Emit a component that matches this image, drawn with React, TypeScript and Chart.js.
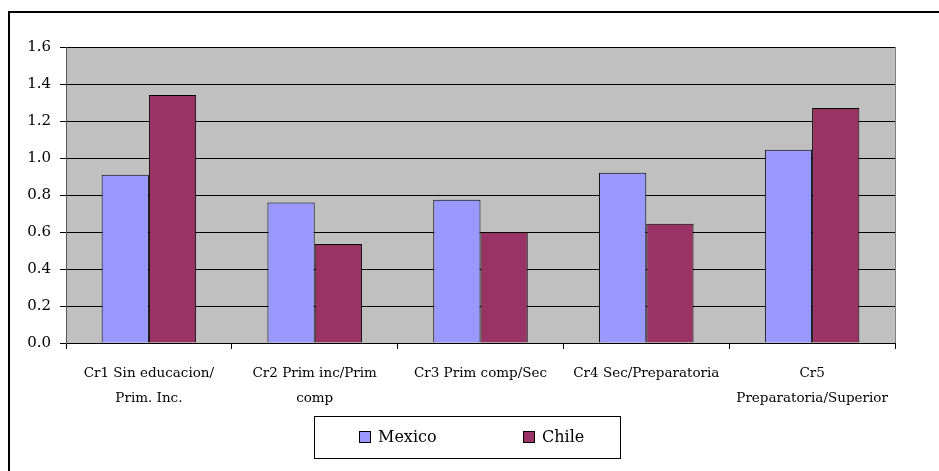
import React, { useEffect, useRef } from "react";
import { Chart, registerables } from "chart.js";

Chart.register(...registerables);

const categories: (string | string[])[] = [
  ["Cr1 Sin educacion/", "Prim. Inc."],
  ["Cr2 Prim inc/Prim", "comp"],
  "Cr3 Prim comp/Sec",
  "Cr4 Sec/Preparatoria",
  ["Cr5", "Preparatoria/Superior"],
];
const mexicoValues = [0.91, 0.76, 0.775, 0.92, 1.045];
const chileValues = [1.34, 0.535, 0.6, 0.645, 1.27];
const seriesNames = ["Mexico", "Chile"];
const yTicks = [0, 0.2, 0.4, 0.6, 0.8, 1.0, 1.2, 1.4, 1.6];

const FONT = "DejaVu Serif, serif";

const framePlugin = {
  id: "frame",
  beforeDraw(chart: any) {
    const { ctx, chartArea, width, height } = chart;
    ctx.save();
    ctx.fillStyle = "#ffffff";
    ctx.fillRect(0, 0, width, height);
    ctx.fillStyle = "#000000";
    ctx.fillRect(8, 11, 2, height - 11);
    ctx.fillRect(8, 11, width - 8, 2);
    ctx.fillStyle = "#C0C0C0";
    ctx.fillRect(chartArea.left, chartArea.top, chartArea.right - chartArea.left, chartArea.bottom - chartArea.top);
    ctx.strokeStyle = "#808080";
    ctx.lineWidth = 1;
    ctx.beginPath();
    ctx.moveTo(chartArea.right + 0.5, chartArea.top);
    ctx.lineTo(chartArea.right + 0.5, chartArea.bottom);
    ctx.stroke();
    ctx.restore();
  },
  afterDraw(chart: any) {
    const { ctx } = chart;
    const boxW = 306;
    const boxH = 42;
    const cx = chart.width / 2 - 3;
    const left = Math.round(cx - boxW / 2);
    const top = 416;
    ctx.save();
    ctx.strokeStyle = "#000000";
    ctx.lineWidth = 1;
    ctx.strokeRect(left + 0.5, top + 0.5, boxW, boxH);
    ctx.font = `16px ${FONT}`;
    ctx.textBaseline = "middle";
    const itemX = [left + 45, left + 209];
    chart.data.datasets.forEach((ds: any, i: number) => {
      const x = itemX[i];
      const y = top + boxH / 2;
      ctx.fillStyle = ds.backgroundColor;
      ctx.fillRect(x, y - 6, 12, 12);
      ctx.strokeStyle = "#000000";
      ctx.strokeRect(x + 0.5, y - 5.5, 11, 11);
      ctx.fillStyle = "#000000";
      ctx.fillText(ds.label, x + 19, y + 1);
    });
    ctx.restore();
  },
};

export default function App() {
  const ref = useRef<HTMLCanvasElement>(null);
  useEffect(() => {
    if (!ref.current) return;
    const chart = new Chart(ref.current, {
      type: "bar",
      data: {
        labels: categories,
        datasets: [
          {
            label: seriesNames[0],
            data: mexicoValues,
            backgroundColor: "#9999FF",
            borderColor: "#000000",
            borderWidth: 1,
          },
          {
            label: seriesNames[1],
            data: chileValues,
            backgroundColor: "#993366",
            borderColor: "#000000",
            borderWidth: 1,
          },
        ],
      },
      options: {
        responsive: false,
        animation: false,
        layout: { padding: { top: 47, right: 44, bottom: 0, left: 0 } },
        plugins: {
          legend: { display: false },
          tooltip: { enabled: false },
        },
        datasets: {
          bar: { categoryPercentage: 0.57, barPercentage: 1 },
        },
        scales: {
          x: {
            offset: true,
            grid: {
              offset: true,
              drawOnChartArea: false,
              drawTicks: true,
              tickLength: 6,
              color: "#000000",
            },
            border: { display: true, color: "#000000", width: 1 },
            ticks: {
              color: "#000000",
              font: { family: FONT, size: 13.5, lineHeight: 1.85 },
              padding: 12,
              maxRotation: 0,
              autoSkip: false,
            },
            afterFit(scale: any) {
              scale.height = 128;
            },
          },
          y: {
            min: 0,
            max: 1.6,
            afterBuildTicks(scale: any) {
              scale.ticks = yTicks.map((v) => ({ value: v }));
            },
            grid: {
              color: "#000000",
              lineWidth: 1,
              tickLength: 6,
              drawTicks: true,
            },
            border: { display: true, color: "#555555", width: 1 },
            ticks: {
              color: "#000000",
              font: { family: FONT, size: 15 },
              padding: 9,
              callback: (v: any) => Number(v).toFixed(1),
            },
            afterFit(scale: any) {
              scale.width = 66;
            },
          },
        },
      },
      plugins: [framePlugin],
    });
    return () => chart.destroy();
  }, []);
  return (
    <div style={{ position: "absolute", left: 0, top: 0, width: 939, height: 471 }}>
      <canvas ref={ref} width={939} height={471} />
    </div>
  );
}
